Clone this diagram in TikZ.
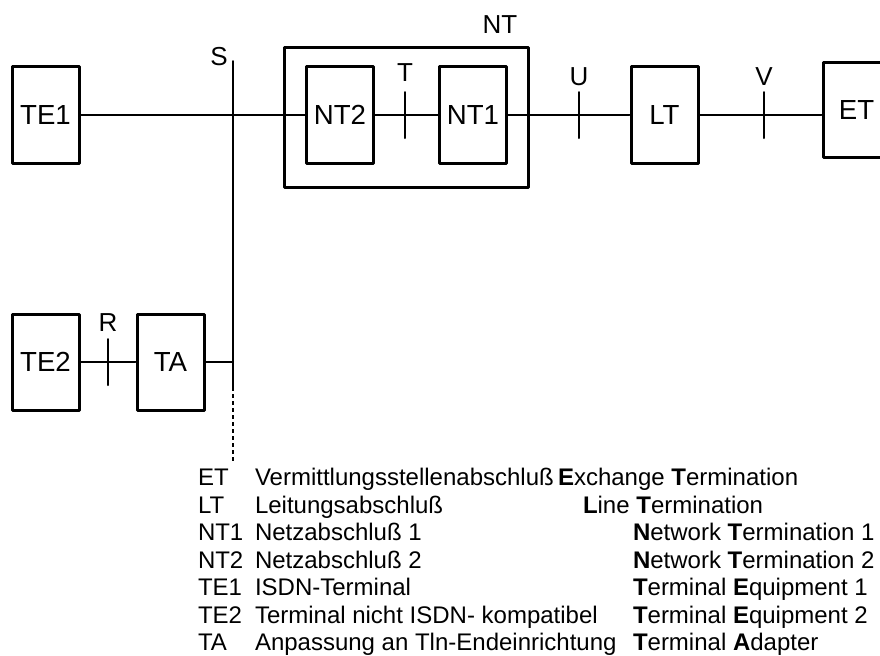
\documentclass[tikz,border=0pt]{standalone}
\usepackage{fontspec}
\setmainfont{Liberation Sans}
\usepackage{tikz}

\begin{document}
\begin{tikzpicture}[x=0.5pt,y=-0.5pt,line width=1pt,line cap=round,line join=round,
  font=\fontsize{12}{14}\selectfont,
  box/.style={draw,line width=1.5pt,inner sep=0pt,minimum width=33.5pt,minimum height=48.5pt,
    font=\fontsize{13.8}{16}\selectfont},
  lbl/.style={inner sep=0pt,font=\fontsize{13}{15}\selectfont},
  leg/.style={inner sep=0pt,anchor=base west}]
\useasboundingbox (0,0) rectangle (880,655);
\node[box] (TE1) at (45.5,115) {TE1};
\node[box,minimum width=122pt,minimum height=70pt] (NT) at (406,117) {};
\node[box] (NT2) at (340,115) {NT2};
\node[box] (NT1) at (473,115) {NT1};
\node[box] (LT) at (664.5,115) {LT};
\node[box,minimum height=47.5pt] (ET) at (856.5,110) {ET};
\node[box,minimum height=48pt] (TE2) at (45.5,362) {TE2};
\node[box,minimum height=48pt] (TA) at (170.5,362) {TA};
\node[lbl] (NTlbl) at (500,25) {NT};
\node[lbl] (Slbl) at (219,57) {S};
\node[lbl] (Tlbl) at (405,73) {T};
\node[lbl] (Ulbl) at (579,77) {U};
\node[lbl] (Vlbl) at (764,77) {V};
\node[lbl] (Rlbl) at (108,323) {R};
\coordinate (Stop) at (233,61);
\coordinate (Ssolid) at (233,387);
\coordinate (Send) at (233,461);
\draw (Stop) -- (Ssolid);
\draw[dash pattern=on 2pt off 1.5pt,line cap=butt] (Ssolid) -- (Send);
\draw (TE1) -- (NT2);
\draw (NT2) -- (NT1);
\draw (NT1) -- (LT);
\draw (LT.east) -- (LT.east -| ET.west);
\draw (TE2) -- (TA);
\draw (TA) -- (TA -| Stop);
\foreach \x/\y in {405/115,579/115,764/115,108/362}
  \draw (\x,\y-23) -- (\x,\y+23);
\foreach \ab/\de/\en/\xe/\yb in {
  ET/Vermittlungsstellenabschluß/{\textbf{E}xchange \textbf{T}ermination}/557/485,
  LT/Leitungsabschluß/{\textbf{L}ine \textbf{T}ermination}/582/513,
  NT1/Netzabschluß 1/{\textbf{N}etwork \textbf{T}ermination 1}/632/540,
  NT2/Netzabschluß 2/{\textbf{N}etwork \textbf{T}ermination 2}/632/568,
  TE1/ISDN-Terminal/{\textbf{T}erminal \textbf{E}quipment 1}/632/595,
  TE2/Terminal nicht ISDN- kompatibel/{\textbf{T}erminal \textbf{E}quipment 2}/632/623,
  TA/Anpassung an Tln-Endeinrichtung/{\textbf{T}erminal \textbf{A}dapter}/632/650}{
  \node[leg] (ab-\ab) at (197,\yb) {\ab};
  \node[leg] (de-\ab) at (254,\yb) {\de};
  \node[leg] (en-\ab) at (\xe,\yb) {\en};
}
\end{tikzpicture}
\end{document}
